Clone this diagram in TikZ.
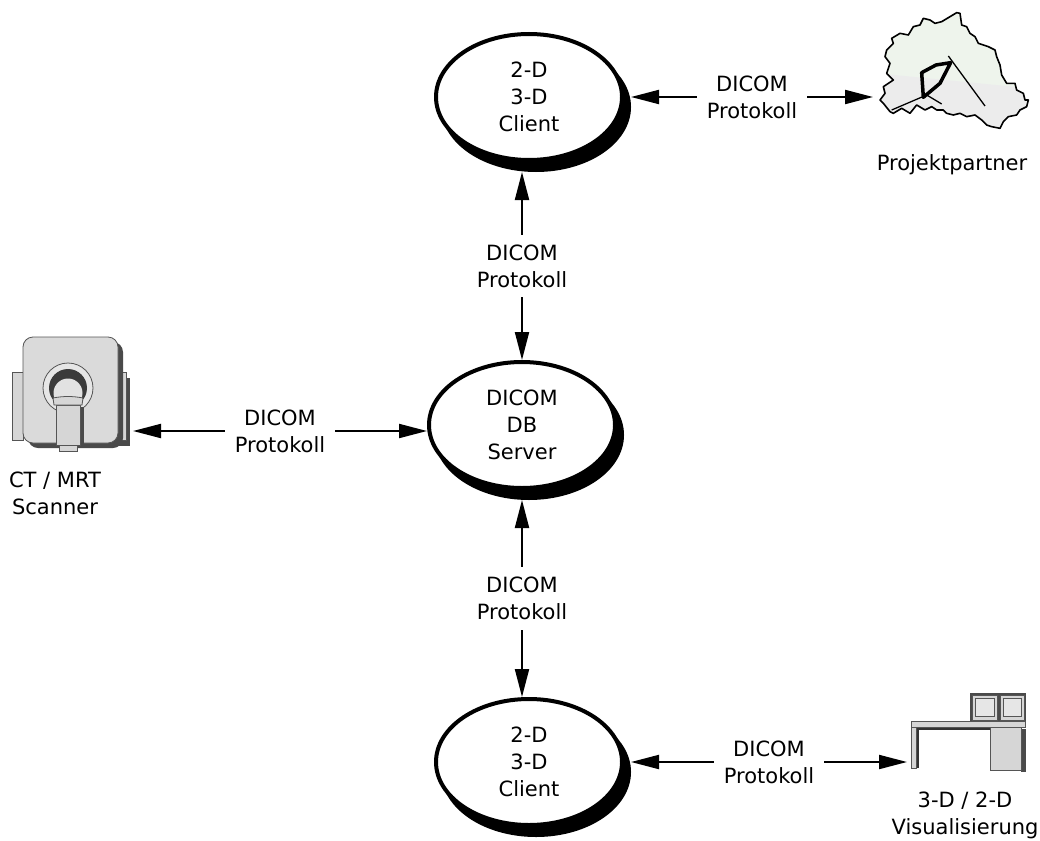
\documentclass[tikz,border=0pt]{standalone}
\usepackage{fontspec}
\setmainfont{DejaVu Sans}
\usetikzlibrary{arrows.meta,shapes.geometric}

\definecolor{devfill}{HTML}{D6D6D6}
\definecolor{devline}{HTML}{555555}
\definecolor{devdark}{HTML}{4A4A4A}
\definecolor{mapgreen}{HTML}{EEF4EC}
\definecolor{mapgray}{HTML}{ECECEC}

\tikzset{
  txt/.style={font=\fontsize{21}{27}\selectfont, align=center},
  station/.style={ellipse, draw=black, line width=4pt, minimum width=186pt,
                  minimum height=126pt, inner sep=0pt, txt},
  ovalshadow/.style={station, fill=black},
  body/.style={station, fill=white},
  link/.style={line width=2pt,
               {Triangle[length=28pt,width=14pt]}-{Triangle[length=28pt,width=14pt]}},
  tag/.style={txt, fill=white, inner sep=10pt, font=\fontsize{21}{27}\selectfont},
  part/.style={fill=devfill, draw=devline, line width=0.8pt},
}

\begin{document}
\begin{tikzpicture}[x=1pt, y=-1pt]
  \useasboundingbox (0,0) rectangle (1040,840);

  % --- DICOM stations (ellipses with drop shadow)
  \node[ovalshadow] (topsh) at (536,107) {};
  \node[body] (top) at (529,97) {2-D\\3-D\\Client};
  \node[ovalshadow] (srvsh) at (529,435) {};
  \node[body] (srv) at (522,425) {DICOM\\DB\\Server};
  \node[ovalshadow] (botsh) at (536,772) {};
  \node[body] (bot) at (529,762) {2-D\\3-D\\Client};

  % --- CT / MRT scanner
  \fill[devdark] (118,378) rectangle (130,446);
  \draw[part] (12,372) rectangle (23,440);
  \draw[part] (118,372) rectangle (126,440);
  \fill[devdark, rounded corners=10pt] (28,342) rectangle (123,448);
  \draw[part, fill=devfill!90!white, rounded corners=10pt] (23,337) rectangle (118,443);
  \draw[devline, fill=devfill!60!white, line width=0.8pt] (68,388) circle[radius=25];
  \fill[devdark!80!black] (68,388) circle[radius=19];
  \fill[devfill!70!white] (68,393) circle[radius=14.5];
  \fill[devdark] (80,407) rectangle (84,448);
  \draw[part] (56,405) rectangle (80,445);
  \draw[part] (53,398) .. controls (63,396) and (73,396) .. (83,398) -- (82,405) -- (54,405) -- cycle;
  \draw[part] (59,445) rectangle (77,451);
  \coordinate (scanport) at (133,431);
  \node[txt] (scanlabel) at (55,493) {CT / MRT\\Scanner};

  % --- partner site (city outline)
  \begin{scope}[shift={(860,0)}, scale=0.3333]
    \def\citypath{(290,38) -- (300,40) -- (305,75) -- (320,80) -- (330,100) -- (345,110)
      -- (355,130) -- (385,140) -- (405,150) -- (410,170) -- (420,195) -- (425,225)
      -- (440,250) -- (465,250) -- (470,270) -- (490,280) -- (495,300) -- (505,300)
      -- (500,320) -- (480,330) -- (470,345) -- (445,350) -- (430,365) -- (420,385)
      -- (395,380) -- (380,375) -- (365,360) -- (345,345) -- (320,350) -- (300,340)
      -- (280,345) -- (260,340) -- (250,330) -- (230,330) -- (215,320) -- (195,330)
      -- (170,315) -- (150,340) -- (125,325) -- (100,340) -- (90,335) -- (70,310)
      -- (60,300) -- (75,280) -- (70,260) -- (100,240) -- (80,220) -- (90,190)
      -- (75,170) -- (80,150) -- (100,130) -- (95,115) -- (120,100) -- (145,105)
      -- (160,80) -- (180,75) -- (190,55) -- (210,60) -- (225,70) -- (245,65)
      -- (270,50) -- cycle}
    \begin{scope}
      \clip \citypath;
      \fill[mapgreen] (0,0) rectangle (560,420);
      \fill[mapgray] (0,215) -- (560,270) -- (560,420) -- (0,420) -- cycle;
    \end{scope}
    \draw[line width=1.6pt, line join=round] \citypath;
    \draw[line width=1.3pt] (95,330) -- (200,285) -- (245,312);
    \draw[line width=1.3pt] (265,168) -- (375,318);
    \draw[line width=3.5pt, line join=round] (190,292) -- (185,218) -- (228,195)
      -- (272,188) -- (240,250) -- cycle;
  \end{scope}
  \coordinate (mapport) at (873,97);
  \node[txt, anchor=base] (partnerlabel) at (952,170) {Projektpartner};

  % --- visualisation workstation
  \fill[devdark] (970,693) rectangle (1026,722);
  \draw[part] (972,695) rectangle (997,720);
  \draw[devline, fill=devfill!60!white, line width=0.6pt] (975,698) rectangle (994,716);
  \draw[part] (1000,695) rectangle (1024,720);
  \draw[devline, fill=devfill!60!white, line width=0.6pt] (1003,698) rectangle (1021,716);
  \fill[devdark] (1021,729) rectangle (1026,772);
  \draw[part] (990,727) rectangle (1021,770);
  \draw[part] (911,721) rectangle (1025,727);
  \draw[part] (911,727) rectangle (916,768);
  \draw[black!80, line width=2pt] (917.5,768) -- (917.5,728.5) -- (990,728.5);
  \coordinate (deskport) at (907,762);
  \node[txt] (desklabel) at (965,815) {3-D / 2-D\\Visualisierung};

  % --- DICOM connections
  \draw[link] (srv.north |- topsh.south) -- (srv.north)
    node[tag, midway] (lab1) {DICOM\\Protokoll};
  \draw[link] (srv.south |- srvsh.south) -- (srv.south |- bot.north)
    node[tag, midway] (lab2) {DICOM\\Protokoll};
  \draw[link] (top.east -| topsh.east) -- (mapport)
    node[tag, midway] (lab3) {DICOM\\Protokoll};
  \draw[link] (scanport) -- (scanport -| srv.west)
    node[tag, midway] (lab4) {DICOM\\Protokoll};
  \draw[link] (bot.east -| botsh.east) -- (deskport)
    node[tag, midway] (lab5) {DICOM\\Protokoll};
\end{tikzpicture}
\end{document}
